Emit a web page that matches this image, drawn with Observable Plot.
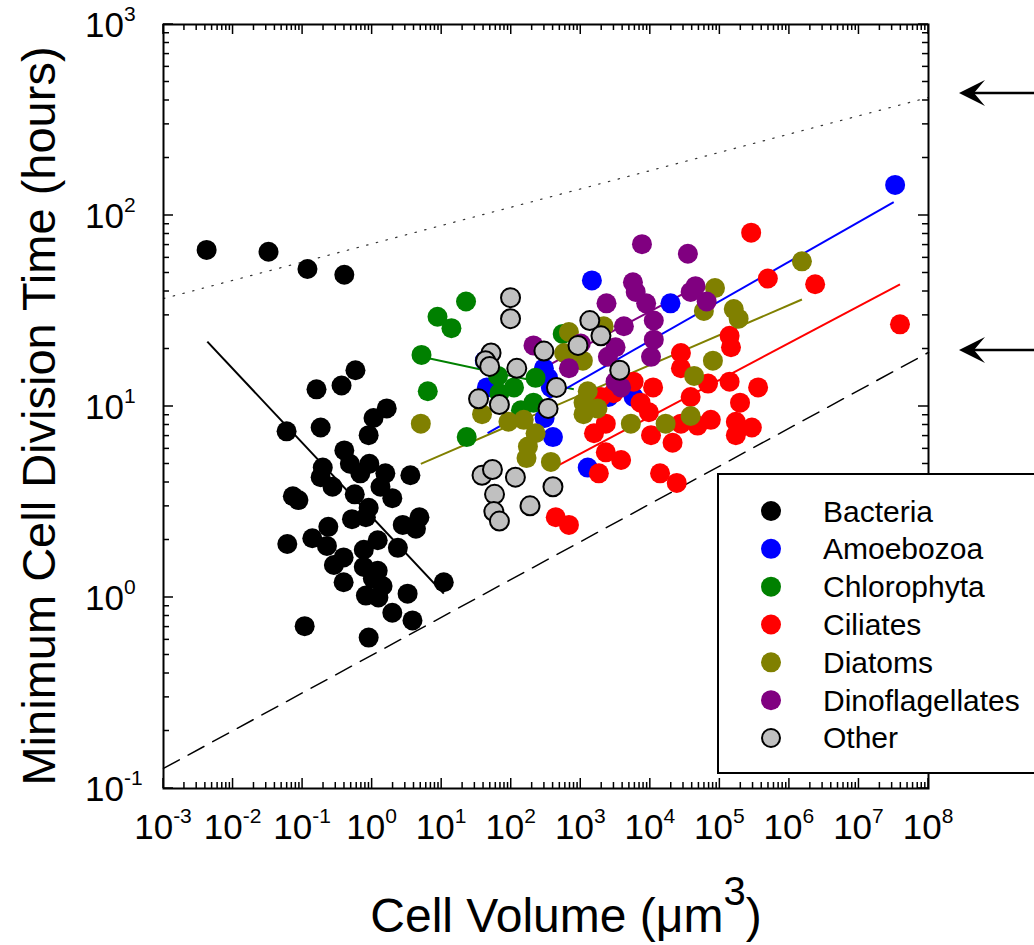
<!DOCTYPE html>
<html><head><meta charset="utf-8">
<script src="https://cdn.jsdelivr.net/npm/d3@7"></script>
<script src="https://cdn.jsdelivr.net/npm/@observablehq/plot@0.6"></script>
<style>body{margin:0;background:#fff;} svg{display:block;}</style>
</head><body><div id="chart"></div>
<script>
const FONT = "'Liberation Sans', Arial, Helvetica, sans-serif";
const groups = ["Bacteria","Amoebozoa","Chlorophyta","Ciliates","Diatoms","Dinoflagellates","Other"];
const colors = ["#000000","#0000ff","#008000","#ff0000","#808000","#800080","#c0c0c0"];

// values stored as log10(cell volume, µm³) and log10(division time, hours)
const bacteriaLogVol = [-2.38,-1.49,-0.93,-0.40,-0.24,-0.80,-0.44,0.21,0.02,-1.23,-0.74,-0.05,-0.40,-0.32,-0.04,-0.71,-0.74,-0.57,-0.17,0.19,0.55,-0.25,-1.14,-1.06,0.12,0.29,-0.05,-0.29,-0.09,0.44,0.68,0.63,-0.63,-0.86,-0.65,-1.22,0.08,-0.12,0.37,-0.41,-0.55,-0.12,0.08,-0.41,0.01,0.15,-0.09,0.09,0.51,1.03,0.29,0.58,-0.97,-0.05];
const bacteriaLogHrs = [1.82,1.81,1.72,1.69,1.19,1.09,1.11,0.99,0.94,0.87,0.89,0.85,0.77,0.70,0.70,0.68,0.63,0.58,0.65,0.65,0.64,0.54,0.53,0.51,0.58,0.52,0.47,0.41,0.42,0.38,0.42,0.36,0.37,0.31,0.27,0.28,0.30,0.25,0.26,0.21,0.17,0.16,0.14,0.08,0.10,0.06,0.01,0.00,0.02,0.08,-0.08,-0.12,-0.15,-0.21];
const amoebozoaLogVol = [7.52,3.16,4.29,1.65,2.47,2.57,2.48,2.60,3.10,3.40,3.76,2.53,1.62];
const amoebozoaLogHrs = [2.16,1.66,1.54,1.10,1.20,1.10,0.94,0.84,0.68,1.05,1.05,1.15,1.24];
const chlorophytaLogVol = [1.35,0.94,1.14,0.71,0.80,1.36,2.74,1.81,2.04,1.83,2.32,2.35,2.14];
const chlorophytaLogHrs = [1.55,1.47,1.41,1.27,1.08,0.84,1.38,1.16,1.10,1.07,1.02,1.15,0.98];
const ciliatesLogVol = [5.45,5.69,6.37,7.59,5.14,5.16,4.83,5.14,5.55,5.29,4.87,5.23,5.46,5.23,4.44,4.44,4.58,4.04,3.86,3.98,3.47,3.29,3.36,3.19,3.36,3.58,4.01,4.32,4.68,4.44,4.14,4.38,3.26,2.64,2.83,3.76];
const ciliatesLogHrs = [1.91,1.67,1.64,1.43,1.37,1.31,1.12,1.13,1.10,1.02,0.93,0.92,0.89,0.85,1.28,1.20,1.05,1.10,1.02,0.97,1.07,1.05,0.91,0.86,0.76,0.72,0.85,0.81,0.90,0.91,0.65,0.60,0.65,0.42,0.38,1.13];
const diatomsLogVol = [6.18,4.93,5.20,5.27,4.90,4.77,4.63,4.58,4.22,3.72,0.70,1.58,1.96,2.18,2.35,2.24,2.22,2.57,3.04,3.24,3.10,2.83,2.76,3.03,2.86,3.33,3.04];
const diatomsLogHrs = [1.76,1.62,1.51,1.46,1.24,1.50,1.16,0.95,0.91,0.91,0.91,0.96,0.92,0.93,0.86,0.79,0.73,0.71,1.02,0.99,1.08,1.39,1.28,1.24,1.23,1.42,0.96];
const dinoLogVol = [3.88,4.54,3.75,3.79,3.94,3.37,4.05,3.62,3.50,3.39,4.05,4.01,3.50,3.58,2.32,2.83,3.00,4.65,4.58,4.81];
const dinoLogHrs = [1.85,1.80,1.65,1.60,1.54,1.54,1.45,1.42,1.31,1.26,1.35,1.26,1.13,1.10,1.32,1.20,1.33,1.63,1.60,1.55];
const otherLogVol = [1.99,1.99,1.71,1.63,1.69,2.08,2.47,2.96,3.13,3.29,3.56,2.65,1.53,1.83,2.53,1.58,1.73,2.06,1.76,1.75,1.83,2.27,2.60];
const otherLogHrs = [1.57,1.46,1.28,1.24,1.21,1.20,1.29,1.32,1.45,1.37,1.19,1.10,1.04,1.01,0.99,0.64,0.67,0.63,0.54,0.45,0.40,0.48,0.58];

// fitted lines per group (log10 endpoints)
const fitGroups = ["Bacteria","Chlorophyta","Diatoms","Amoebozoa","Ciliates","Dinoflagellates"];
const fitLogVolStart = [-2.37,0.71,0.70,1.66,2.67,2.35];
const fitLogVolEnd   = [1.03,2.90,6.18,7.50,7.59,4.58];
const fitLogHrsStart = [1.34,1.26,0.70,0.86,0.69,1.18];
const fitLogHrsEnd   = [0.02,1.09,1.56,2.07,1.64,1.61];

// reference bounds
const refLogVol = [-3, 8];
const dashedLogHrs = [-0.895, 1.283];
const dottedLogHrs = [1.565, 2.618];
const arrowLogHrs = [2.639, 1.293];

// axis decades
const xDecades = [-3,-2,-1,0,1,2,3,4,5,6,7,8];
const yDecades = [-1,0,1,2,3];

const series = [
  ["Bacteria", bacteriaLogVol, bacteriaLogHrs],
  ["Amoebozoa", amoebozoaLogVol, amoebozoaLogHrs],
  ["Chlorophyta", chlorophytaLogVol, chlorophytaLogHrs],
  ["Ciliates", ciliatesLogVol, ciliatesLogHrs],
  ["Diatoms", diatomsLogVol, diatomsLogHrs],
  ["Dinoflagellates", dinoLogVol, dinoLogHrs],
  ["Other", otherLogVol, otherLogHrs]
];
const points = series.flatMap(([g, lv, lh]) => lv.map((v, i) => ({group: g, v: 10 ** v, t: 10 ** lh[i]})));
const fits = fitGroups.map((g, i) => ({group: g, v1: 10 ** fitLogVolStart[i], v2: 10 ** fitLogVolEnd[i], t1: 10 ** fitLogHrsStart[i], t2: 10 ** fitLogHrsEnd[i]}));
const dashed = refLogVol.map((v, i) => ({v: 10 ** v, t: 10 ** dashedLogHrs[i]}));
const dotted = refLogVol.map((v, i) => ({v: 10 ** v, t: 10 ** dottedLogHrs[i]}));

const W = 1034, H = 945;
const plot = Plot.plot({
  width: W, height: H,
  marginLeft: 163, marginRight: 106, marginTop: 24, marginBottom: 157,
  x: {type: "log", domain: [1e-3, 1e8], axis: null},
  y: {type: "log", domain: [0.1, 1000], axis: null},
  color: {domain: groups, range: colors},
  style: {fontFamily: FONT, background: "white", overflow: "visible"},
  marks: [
    Plot.line(dashed, {x: "v", y: "t", stroke: "black", strokeWidth: 1.5, strokeDasharray: "18,10"}),
    Plot.line(dotted, {x: "v", y: "t", stroke: "#333", strokeWidth: 1.2, strokeDasharray: "1.5,8.5"}),
    Plot.link(fits, {x1: "v1", y1: "t1", x2: "v2", y2: "t2", stroke: "group", strokeWidth: 2}),
    Plot.dot(points.filter(d => d.group !== "Other"), {x: "v", y: "t", r: 10, fill: "group", stroke: "none"}),
    Plot.dot(points.filter(d => d.group === "Other"), {x: "v", y: "t", r: 9.5, fill: "group", stroke: "black", strokeWidth: 2}),
    Plot.frame({stroke: "black", strokeWidth: 2})
  ]
});
document.getElementById("chart").appendChild(plot);

const xs = plot.scale("x"), ys = plot.scale("y");
const svg = d3.select(plot);
const x0 = xs.apply(1e-3), x1 = xs.apply(1e8);
const y0 = ys.apply(0.1), y1 = ys.apply(1000);

// ticks (inward, on all four sides)
const gT = svg.append("g").attr("stroke", "black").attr("stroke-width", 1.5);
const MAJ = 10, MIN = 6;
xDecades.forEach(d => {
  for (let k = 1; k <= 9; k++) {
    const val = k * 10 ** d;
    if (val > 1e8 * 1.0001) break;
    const px = xs.apply(val), L = k === 1 ? MAJ : MIN;
    gT.append("line").attr("x1", px).attr("x2", px).attr("y1", y0).attr("y2", y0 - L);
    gT.append("line").attr("x1", px).attr("x2", px).attr("y1", y1).attr("y2", y1 + L);
  }
});
yDecades.forEach(d => {
  for (let k = 1; k <= 9; k++) {
    const val = k * 10 ** d;
    if (val > 1000 * 1.0001) break;
    const py = ys.apply(val), L = k === 1 ? MAJ : MIN;
    gT.append("line").attr("y1", py).attr("y2", py).attr("x1", x0).attr("x2", x0 + L);
    gT.append("line").attr("y1", py).attr("y2", py).attr("x1", x1).attr("x2", x1 - L);
  }
});

// tick labels
const gL = svg.append("g").attr("font-family", FONT).attr("fill", "black");
xDecades.forEach(d => {
  const t = gL.append("text").attr("x", xs.apply(10 ** d)).attr("y", 839).attr("text-anchor", "middle").attr("font-size", 35);
  t.append("tspan").text("10");
  t.append("tspan").attr("font-size", 21).attr("dy", -16).text(String(d));
});
yDecades.forEach(d => {
  const t = gL.append("text").attr("x", 85).attr("y", ys.apply(10 ** d) + 12.5).attr("text-anchor", "start").attr("font-size", 35);
  t.append("tspan").text("10");
  t.append("tspan").attr("font-size", 21).attr("dy", -16).text(String(d));
});

// axis titles
const xt = gL.append("text").attr("x", 566).attr("y", 932).attr("text-anchor", "middle").attr("font-size", 48);
xt.append("tspan").text("Cell Volume (\u03bcm");
xt.append("tspan").attr("font-size", 40).attr("dy", -27).text("3");
xt.append("tspan").attr("dy", 27).text(")");
gL.append("text").attr("transform", `translate(55,416) rotate(-90)`).attr("text-anchor", "middle").attr("font-size", 47).text("Minimum Cell Division Time (hours)");

// arrows pointing at the reference lines
arrowLogHrs.forEach(h => {
  const py = ys.apply(10 ** h);
  svg.append("line").attr("x1", 973).attr("x2", W).attr("y1", py).attr("y2", py).attr("stroke", "black").attr("stroke-width", 2.5);
  svg.append("path").attr("d", `M959,${py} L985,${py - 13} L974,${py} L985,${py + 13} Z`).attr("fill", "black");
});

// legend
const gLeg = svg.append("g").attr("font-family", FONT).attr("text-anchor", "start");
gLeg.append("rect").attr("x", 718).attr("y", 474).attr("width", 340).attr("height", 299).attr("fill", "white").attr("stroke", "black").attr("stroke-width", 2);
groups.forEach((g, i) => {
  const cy = 511 + i * 37.83;
  gLeg.append("circle").attr("cx", 771).attr("cy", cy).attr("r", g === "Other" ? 9 : 10)
    .attr("fill", colors[i]).attr("stroke", g === "Other" ? "black" : "none").attr("stroke-width", 2);
  gLeg.append("text").attr("x", 823).attr("y", cy + 10.5).attr("text-anchor", "start").attr("font-size", 30).text(g);
});
</script>
</body></html>
